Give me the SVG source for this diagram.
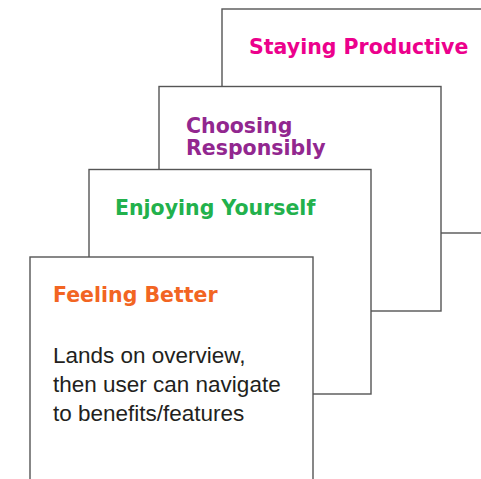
<svg xmlns="http://www.w3.org/2000/svg" width="481" height="479" viewBox="0 0 481 479">
<style>
.card{fill:#fff;stroke:#555;stroke-width:1.4}
.title{font-family:"DejaVu Sans",sans-serif;font-weight:bold;font-size:20.5px}
.body{font-family:"Liberation Sans",Arial,sans-serif;font-size:22.5px;fill:#231f20}
</style>
<rect width="481" height="479" fill="#fff"/>
<g id="card-staying-productive">
<rect class="card" x="222" y="9" width="280" height="224"/>
<text class="title" x="249" y="54" fill="#ec008c">Staying Productive</text>
</g>
<g id="card-choosing-responsibly">
<rect class="card" x="159" y="86.5" width="282" height="224.5"/>
<text class="title" x="186" y="133" fill="#92278f">Choosing</text>
<text class="title" x="186" y="155" fill="#92278f">Responsibly</text>
</g>
<g id="card-enjoying-yourself">
<rect class="card" x="89" y="169.5" width="282" height="224.5"/>
<text class="title" x="115" y="215" fill="#22b14c">Enjoying Yourself</text>
</g>
<g id="card-feeling-better">
<rect class="card" x="30" y="257" width="283" height="240"/>
<text class="title" x="53" y="302" fill="#f26522">Feeling Better</text>
<text class="body" x="53" y="363">Lands on overview,</text>
<text class="body" x="53" y="392">then user can navigate</text>
<text class="body" x="53" y="421">to benefits/features</text>
</g>
<g id="connectors"></g>
</svg>
